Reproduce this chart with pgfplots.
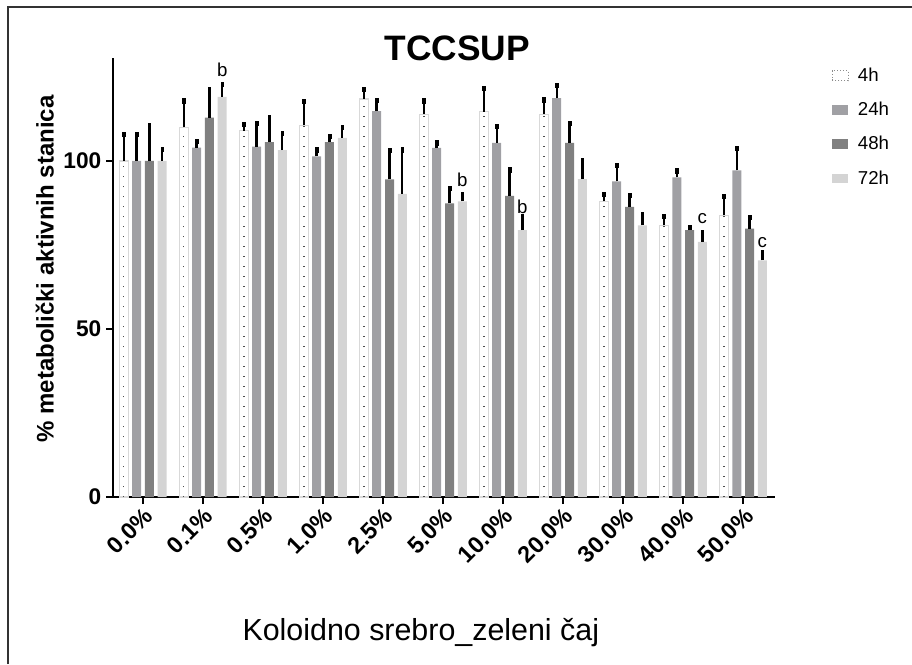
\documentclass[border=0pt]{standalone}
\usepackage{fontspec}
\setmainfont{Liberation Sans}
\usepackage{pgfplots}
\pgfplotsset{compat=1.18}
\usepackage{pgfplotstable}

\definecolor{cA}{RGB}{217,217,217}
\definecolor{cB}{RGB}{160,160,164}
\definecolor{cC}{RGB}{128,128,128}
\definecolor{cD}{RGB}{212,212,212}

\pgfplotstableread{
x y e
0 100 8
1 110 7.9
2 109 2
3 110.6 7.1
4 118.5 2.9
5 113.9 4
6 114.7 7
7 113.9 4.3
8 88 2.1
9 80.8 2.8
10 83.8 5.8
}\dataA
\pgfplotstableread{
x y e
0 100 8
1 104 1.8
2 104.3 7
3 101.4 1.9
4 114.8 3.3
5 103.9 1.5
6 105.4 5
7 118.7 3.9
8 93.9 4.8
9 95.1 2
10 97.2 6.6
}\dataB
\pgfplotstableread{
x y e
0 100 10.7
1 112.9 8.3
2 105.6 7.3
3 105.6 1.8
4 94.5 8.7
5 87.4 4.4
6 89.6 7.8
7 105.4 5.9
8 86.3 3.4
9 79.4 0.8
10 79.9 3.3
}\dataC
\pgfplotstableread{
x y e
0 100 3.4
1 119.1 3.7
2 103.2 5.1
3 106.9 3.1
4 90.2 13.1
5 88 2.1
6 79.4 4
7 94.6 5.7
8 80.8 3.3
9 75.9 2.8
10 70.4 2.4
}\dataD

\pgfplotsset{
  mybar/.style={ybar, bar width=6.75pt, bar shift=0pt, draw=none,
    legend image code/.code={\path[fill,##1] (0pt,-3.6pt) rectangle (12pt,3.6pt);},
    error bars/y dir=plus, error bars/y explicit,
    error bars/error mark=square*,
    error bars/error bar style={line width=1.8pt, draw=black, solid},
    error bars/error mark options={line width=0.4pt, draw=black, fill=black, solid, mark size=1.6pt, yscale=0.6}},
}

\begin{document}
\begin{tikzpicture}
\useasboundingbox (0pt,0pt) rectangle (684pt,498pt);
\draw[black!80, line width=1.1pt] (6pt,0pt) -- (6pt,492.75pt) -- (684pt,492.75pt);
\begin{axis}[
  at={(84.75pt,125.25pt)}, anchor=south west,
  scale only axis, width=496.5pt, height=328.9pt,
  xmin=-0.5, xmax=10.53, ymin=0, ymax=130.5,
  axis x line=bottom, axis y line=left,
  axis line style={-, line width=1.7pt, black},
  tick align=outside, major tick length=5.25pt,
  tick style={line width=1.7pt, black},
  xtick={0,...,10},
  xticklabels={0.0\%,0.1\%,0.5\%,1.0\%,2.5\%,5.0\%,10.0\%,20.0\%,30.0\%,40.0\%,50.0\%},
  ytick={0,50,100},
  /pgf/number format/assume math mode=true,
  xticklabel style={rotate=45, anchor=north east, font=\fontsize{17.5}{20}\selectfont\bfseries, inner sep=1pt},
  yticklabel style={font=\fontsize{17}{20}\selectfont\bfseries},
  title={TCCSUP},
  title style={at={(axis description cs:0.52,1.005)}, anchor=center, font=\fontsize{26.5}{30}\selectfont\bfseries},
  ylabel={\% metabolički aktivnih stanica},
  ylabel style={at={(axis description cs:-0.103,0.52)}, anchor=center, rotate=0, font=\fontsize{18}{21}\selectfont\bfseries},
  xlabel={Koloidno srebro\_zeleni čaj},
  xlabel style={at={(axis description cs:0.465,-0.309)}, anchor=center, font=\fontsize{22.8}{26}\selectfont},
  legend style={at={(1.085,0.985)}, anchor=north west, draw=none, fill=none,
    font=\fontsize{14}{16}\selectfont, row sep=10pt, column sep=5pt, inner sep=0pt},
  legend cell align=left,
  clip=false,
]
\addplot[mybar, fill=white, draw=cA, line width=1.1pt,
  legend image code/.code={\draw[black!45, line width=0.8pt, dash pattern=on 0.8pt off 1.4pt, fill=white] (0pt,-3.6pt) rectangle (12pt,3.6pt);}]
  table[x expr=\thisrow{x}-0.32, y=y, y error=e]{\dataA};
\addlegendentry{4h}
\addplot[ycomb, forget plot, black!70, line width=1pt, dash pattern=on 0.9pt off 6.6pt, mark=none]
  table[x expr=\thisrow{x}-0.32, y=y]{\dataA};
\addplot[mybar, fill=cB] table[x expr=\thisrow{x}-0.107, y=y, y error=e]{\dataB};
\addlegendentry{24h}
\addplot[mybar, fill=cC] table[x expr=\thisrow{x}+0.107, y=y, y error=e]{\dataC};
\addlegendentry{48h}
\addplot[mybar, fill=cD] table[x expr=\thisrow{x}+0.32, y=y, y error=e]{\dataD};
\addlegendentry{72h}
\node[font=\fontsize{14}{16}\selectfont] at (axis cs:1.32,127) {b};
\node[font=\fontsize{14}{16}\selectfont] at (axis cs:5.32,94.3) {b};
\node[font=\fontsize{14}{16}\selectfont] at (axis cs:6.32,86.3) {b};
\node[font=\fontsize{14}{16}\selectfont] at (axis cs:9.32,83) {c};
\node[font=\fontsize{14}{16}\selectfont] at (axis cs:10.32,75.6) {c};
\end{axis}
\end{tikzpicture}
\end{document}
